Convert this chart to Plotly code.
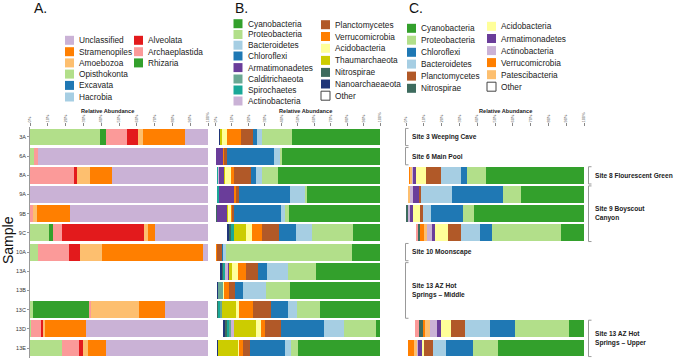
import plotly.graph_objects as go

W, H = 676, 362
def px(x): return x / W
def py(y): return 1 - y / H

samples = ["3A", "6A", "8A", "9A", "9B", "9C", "10A", "13A", "13B", "13C", "13D", "13E"]
tick_vals = [0, 10, 20, 30, 40, 50, 60, 70, 80, 90, 100]
tick_text = ["0%", "10%", "20%", "30%", "40%", "50%", "60%", "70%", "80%", "90%", "100%"]

# ---------- Panel A: eukaryotic supergroups (stack order left -> right) ----------
opisthokonta   = [39.3, 2.0, 0, 0, 0, 10.9, 4.7, 0, 0, 1.9, 0.6, 18.2]
rhizaria       = [3.4, 0, 0, 0, 0, 1.9, 0, 0, 0, 31.5, 0, 0]
archaeplastida = [11.6, 2.5, 24.5, 0, 1.9, 5.1, 17.2, 0, 0, 0.7, 5.6, 9.6]
alveolata      = [6.2, 0, 1.8, 0, 0, 46.3, 6.2, 0, 0, 0, 1.3, 2.2]
amoebozoa      = [2.8, 0, 7.3, 0, 2.2, 1.9, 12.2, 0, 0, 27.0, 0.9, 2.8]
stramenopiles  = [23.8, 0, 12.7, 0, 18.4, 4.3, 57.1, 0, 0, 14.8, 22.8, 9.9]
excavata       = [0, 0, 0, 0, 0, 0, 0, 0, 0, 0, 0, 0]
hacrobia       = [0, 0, 0, 0, 0, 0, 0, 0, 0, 0, 0, 0]
unclassified   = [12.9, 95.5, 53.7, 100, 77.5, 29.6, 2.6, 0, 0, 24.1, 68.8, 57.3]

# ---------- Panel B: prokaryotic phyla (16S) ----------
b_other     = [2.1, 0.3, 0.7, 0.7, 0.3, 7.2, 0.3, 2.7, 1.1, 0.7, 4.7, 0.7]
b_nanoarch  = [0.9, 0, 0, 0, 0, 1.3, 0, 1.0, 0.6, 0, 1.3, 1.0]
b_nitro     = [0, 0, 0, 0, 0.8, 0.9, 0, 1.0, 0, 1.0, 0.9, 0]
b_spiro     = [0, 0, 1.0, 1.2, 0, 2.1, 0, 1.2, 0, 1.0, 1.2, 0]
b_caldi     = [0, 0, 0, 0, 0, 0, 0, 0, 2.7, 1.0, 1.2, 0]
b_actino    = [0, 0, 0.6, 0, 0, 0, 0, 1.6, 0, 0, 2.1, 0]
b_armat     = [0, 4.1, 2.9, 9.3, 5.7, 0, 0, 1.0, 0, 0, 0, 0]
b_thaum     = [1.2, 0, 0.6, 0, 0.6, 7.0, 0, 1.8, 0, 8.9, 13.5, 12.2]
b_acido     = [3.0, 0, 3.5, 0, 1.8, 3.5, 0, 3.5, 0.8, 1.9, 2.9, 0.6]
b_verruco   = [8.1, 0.8, 2.0, 1.4, 0.8, 6.1, 0.8, 4.8, 3.3, 8.1, 2.1, 2.1]
b_plancto   = [7.7, 1.6, 10.2, 1.5, 1.2, 10.7, 2.7, 7.5, 3.5, 11.2, 10.0, 4.4]
b_chloro    = [2.0, 28.6, 3.4, 31.0, 28.8, 10.2, 0.6, 5.5, 4.5, 10.3, 26.1, 21.4]
b_bactero   = [3.0, 3.6, 3.6, 9.1, 2.4, 9.5, 2.0, 12.2, 14.2, 5.7, 12.0, 3.3]
b_proteo    = [18.2, 1.6, 9.5, 1.4, 2.2, 25.3, 76.4, 17.4, 14.3, 14.0, 19.7, 4.3]
b_cyano     = [53.8, 59.4, 62.0, 44.4, 55.3, 16.2, 17.3, 38.8, 55.0, 36.2, 2.3, 50.0]

# ---------- Panel C: prokaryotic phyla (metagenome) ----------
c_other     = [0, 0, 2.0, 1.0, 0.3, 5.6, 0, 0, 0, 0, 4.9, 1.3]
c_unlisted  = [0, 0, 0, 0, 0, 1.3, 0, 0, 0, 0, 2.2, 0]
c_nitro     = [0, 0, 0, 0, 1.0, 1.0, 0, 0, 0, 0, 2.8, 0]
c_verruco   = [0, 0, 0.8, 0, 0, 2.2, 0, 0, 0, 0, 0.7, 3.2]
c_patesci   = [0, 0, 0.8, 1.3, 0, 1.5, 0, 0, 0, 0, 2.8, 1.9]
c_actino    = [0, 0, 0.6, 1.5, 1.3, 2.8, 0, 0, 0, 0, 3.9, 0.6]
c_armat     = [0, 0, 1.4, 3.7, 1.1, 1.9, 0, 0, 0, 0, 2.6, 1.9]
c_acido     = [0, 0, 5.6, 0, 4.5, 7.1, 0, 0, 0, 0, 5.2, 1.3]
c_plancto   = [0, 0, 8.4, 0.8, 1.1, 7.5, 0, 0, 0, 0, 8.3, 4.9]
c_bactero   = [0, 0, 11.1, 17.4, 4.5, 10.7, 0, 0, 0, 0, 14.0, 7.5]
c_chloro    = [0, 0, 3.4, 28.7, 18.0, 6.5, 0, 0, 0, 0, 14.0, 15.3]
c_proteo    = [0, 0, 10.7, 10.1, 6.3, 38.9, 0, 0, 0, 0, 30.1, 13.6]
c_cyano     = [0, 0, 55.2, 35.6, 61.8, 13.1, 0, 0, 0, 0, 8.3, 48.6]

# ---------- site labels ----------
site_labels = ["Site 3 Weeping Cave", "Site 6 Main Pool", "Site 8 Flourescent Green",
               "Site 9 Boyscout<br>Canyon", "Site 10 Moonscape",
               "Site 13 AZ Hot<br>Springs – Middle", "Site 13 AZ Hot<br>Springs – Upper"]
site_first = [0, 1, 2, 3, 6, 7, 10]
site_last  = [0, 1, 2, 5, 6, 9, 11]
site_side  = ["left", "left", "right", "right", "left", "left", "right"]

COL = {
    "Unclassified": "#cab2d6", "Stramenopiles": "#ff7f00", "Amoebozoa": "#fdbf6f",
    "Opisthokonta": "#b2df8a", "Excavata": "#1f78b4", "Hacrobia": "#a6cee3",
    "Alveolata": "#e31a1c", "Archaeplastida": "#fb9a99", "Rhizaria": "#33a02c",
    "Cyanobacteria": "#33a02c", "Proteobacteria": "#b2df8a", "Bacteroidetes": "#a6cee3",
    "Chloroflexi": "#1f78b4", "Armatimonadetes": "#6a3d9a", "Calditrichaeota": "#6aa893",
    "Spirochaetes": "#1aa898", "Actinobacteria": "#cab2d6", "Planctomycetes": "#b15928",
    "Verrucomicrobia": "#ff7f00", "Acidobacteria": "#ffff99", "Thaumarchaeota": "#cccc00",
    "Nitrospirae": "#3d6b5e", "Nanoarchaeaeota": "#1f3579", "Other": "#ffffff",
    "Patescibacteria": "#fdbf6f", "Unlisted": "#fb9a99",
}

panelA = [("Opisthokonta", opisthokonta), ("Rhizaria", rhizaria), ("Archaeplastida", archaeplastida),
          ("Alveolata", alveolata), ("Amoebozoa", amoebozoa), ("Stramenopiles", stramenopiles),
          ("Excavata", excavata), ("Hacrobia", hacrobia), ("Unclassified", unclassified)]
panelB = [("Other", b_other), ("Nanoarchaeaeota", b_nanoarch), ("Nitrospirae", b_nitro),
          ("Spirochaetes", b_spiro), ("Calditrichaeota", b_caldi), ("Actinobacteria", b_actino),
          ("Armatimonadetes", b_armat), ("Thaumarchaeota", b_thaum), ("Acidobacteria", b_acido),
          ("Verrucomicrobia", b_verruco), ("Planctomycetes", b_plancto), ("Chloroflexi", b_chloro),
          ("Bacteroidetes", b_bactero), ("Proteobacteria", b_proteo), ("Cyanobacteria", b_cyano)]
panelC = [("Other", c_other), ("Unlisted", c_unlisted), ("Nitrospirae", c_nitro),
          ("Verrucomicrobia", c_verruco), ("Patescibacteria", c_patesci), ("Actinobacteria", c_actino),
          ("Armatimonadetes", c_armat), ("Acidobacteria", c_acido), ("Planctomycetes", c_plancto),
          ("Bacteroidetes", c_bactero), ("Chloroflexi", c_chloro), ("Proteobacteria", c_proteo),
          ("Cyanobacteria", c_cyano)]

legendA = [["Unclassified", "Stramenopiles", "Amoebozoa", "Opisthokonta", "Excavata", "Hacrobia"],
           ["Alveolata", "Archaeplastida", "Rhizaria"]]
legendB = [["Cyanobacteria", "Proteobacteria", "Bacteroidetes", "Chloroflexi", "Armatimonadetes",
            "Calditrichaeota", "Spirochaetes", "Actinobacteria"],
           ["Planctomycetes", "Verrucomicrobia", "Acidobacteria", "Thaumarchaeota", "Nitrospirae",
            "Nanoarchaeaeota", "Other"]]
legendC = [["Cyanobacteria", "Proteobacteria", "Chloroflexi", "Bacteroidetes", "Planctomycetes", "Nitrospirae"],
           ["Acidobacteria", "Armatimonadetes", "Actinobacteria", "Verrucomicrobia", "Patescibacteria", "Other"]]

fig = go.Figure()
for axis, series in (("x", panelA), ("x2", panelB), ("x3", panelC)):
    for name, vals in series:
        fig.add_trace(go.Bar(y=samples, x=vals, orientation="h", name=name, width=0.88,
                             marker=dict(color=COL[name], line=dict(width=0)),
                             xaxis=axis, yaxis="y", showlegend=False))

FONT = "Liberation Sans, Arial, sans-serif"
xcommon = dict(range=[0, 100], side="top", anchor="y", showgrid=False, zeroline=False,
               showline=False, ticks="outside", ticklen=3, tickcolor="#888", tickwidth=0.6,
               tickvals=tick_vals, ticktext=tick_text, tickangle=-90, automargin=False,
               tickfont=dict(size=4, color="#555", family=FONT), fixedrange=True)
ytop, ybot = 127.4, 357.6
fig.update_layout(
    template="none",
    width=W, height=H, autosize=False, margin=dict(l=0, r=0, t=0, b=0, pad=0),
    paper_bgcolor="white", plot_bgcolor="white", barmode="stack", bargap=0.12,
    font=dict(family=FONT, color="#222"),
    xaxis=dict(domain=[px(30), px(208)], **xcommon),
    xaxis2=dict(domain=[px(215.5), px(380)], **xcommon),
    xaxis3=dict(domain=[px(406), px(584)], **xcommon),
    yaxis=dict(domain=[py(ybot), py(ytop)], anchor="x", type="category", automargin=False,
               categoryorder="array", categoryarray=samples, range=[11.5, -0.5],
               showline=True, linecolor="#999", linewidth=1, ticks="outside", ticklen=2,
               tickcolor="#999", tickfont=dict(size=5.5, color="#333", family=FONT),
               showgrid=False, zeroline=False, fixedrange=True),
)

shapes, annotations = [], []

# panel letters and axis titles
for txt, x in (("A.", 32), ("B.", 233), ("C.", 407)):
    annotations.append(dict(text=txt, x=px(x), y=py(8), xref="paper", yref="paper",
                            xanchor="left", yanchor="middle", showarrow=False,
                            font=dict(size=14, color="#111")))
for x in (107, 305, 505):
    annotations.append(dict(text="<b>Relative Abundance</b>", x=px(x), y=py(110.5), xref="paper",
                            yref="paper", xanchor="center", yanchor="middle", showarrow=False,
                            font=dict(size=5.6, color="#222")))
annotations.append(dict(text="Sample", x=px(8), y=py(240), xref="paper", yref="paper",
                        textangle=-90, showarrow=False, xanchor="center", yanchor="middle",
                        font=dict(size=14, color="#111")))

# legends
def add_legend(cols, xs, ys, sq=9, fsize=8.3):
    for col, x0, rows in zip(cols, xs, ys):
        for name, yc in zip(col, rows):
            line = dict(color="#444", width=1) if name == "Other" else dict(width=0)
            shapes.append(dict(type="rect", xref="paper", yref="paper",
                               x0=px(x0), x1=px(x0 + sq), y0=py(yc + sq / 2), y1=py(yc - sq / 2),
                               fillcolor=COL[name], line=line))
            annotations.append(dict(text=name, x=px(x0 + sq + 3), y=py(yc), xref="paper",
                                    yref="paper", xanchor="left", yanchor="middle",
                                    showarrow=False, font=dict(size=fsize, color="#222")))

add_legend(legendA, [65, 134], [[40.3, 51.7, 62.9, 74.1, 85.4, 97], [40.3, 51.7, 62.9]])
add_legend(legendB, [233.5, 321], [[23.7, 34.5, 45.2, 56, 67.6, 79, 90, 101],
                                   [24.7, 36.5, 48.3, 60.4, 72.4, 84, 95.7]])
add_legend(legendC, [407, 487], [[28.3, 40.2, 52.3, 64.1, 76.1, 88.3],
                                 [26.3, 38.5, 50.6, 62.6, 74.7, 86.7]])

# site brackets in panel C
for label, r0, r1, side in zip(site_labels, site_first, site_last, site_side):
    y0, y1 = r0 - 0.45, r1 + 0.45
    if side == "left":
        xv, xt, xtext = 405.5, 408.5, 410
    else:
        xv, xt, xtext = 588.5, 591.5, 592.5
    shapes.append(dict(type="line", xref="paper", yref="y", x0=px(xv), x1=px(xv), y0=y0, y1=y1,
                       line=dict(color="#999", width=1)))
    for yy in (y0, y1):
        shapes.append(dict(type="line", xref="paper", yref="y", x0=px(xv), x1=px(xt), y0=yy, y1=yy,
                           line=dict(color="#999", width=1)))
    annotations.append(dict(text="<b>" + label + "</b>", x=px(xtext), y=(r0 + r1) / 2,
                            xref="paper", yref="y", xanchor="left", yanchor="middle",
                            align="left", showarrow=False, font=dict(size=6.6, color="#222")))

fig.update_layout(shapes=shapes, annotations=annotations)
fig.write_html("out.html", config={"displayModeBar": False},
               post_script="document.body.style.margin='0';document.body.style.padding='0';")
